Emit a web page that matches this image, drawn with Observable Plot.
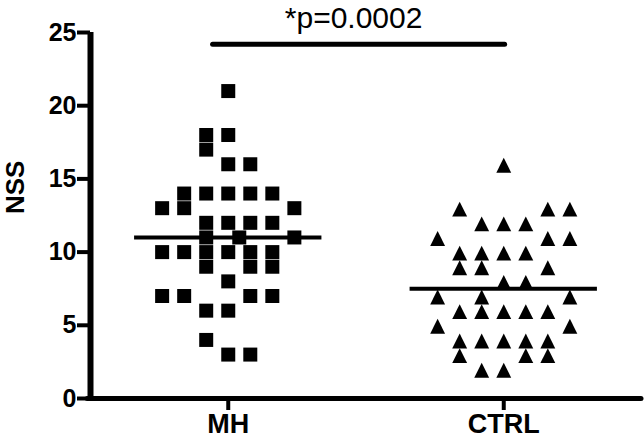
<!DOCTYPE html>
<html>
<head>
<meta charset="utf-8">
<script src="https://cdn.jsdelivr.net/npm/d3@7"></script>
<script src="https://cdn.jsdelivr.net/npm/@observablehq/plot@0.6"></script>
<style>
  html, body { margin: 0; padding: 0; background: #fff; }
  #chart svg { display: block; }
</style>
</head>
<body>
<div id="chart"></div>
<script>
// ---- data ----
const groups = ["MH", "CTRL"];
const yTicks = [0, 5, 10, 15, 20, 25];
const yLabel = "NSS";
const pLabel = "*p=0.0002";

// MH group: NSS scores and their column slot in the scatter
const mhValues = [21, 18, 18, 17, 16, 16, 14, 14, 14, 14, 14, 13, 13, 13, 12, 12, 12, 12, 11, 11, 11,
                  10, 10, 10, 10, 10, 10, 9, 9, 9, 8, 7, 7, 7, 7, 6, 6, 4, 3, 3];
const mhSlots  = [0, -1, 0, -1, 0, 1, -2, -1, 0, 1, 2, -3, -2, 3, -1, 0, 1, 2, -1, 0.5, 3,
                  -3, -2, -1, 0, 1, 2, -1, 1, 2, 0, -3, -2, 1, 2, -1, 0, -1, 0, 1];

// CTRL group
const ctrlValues = [16, 13, 13, 13, 12, 12, 12, 11, 11, 11, 10, 10, 10, 10, 9, 9, 9, 8, 8, 7, 7, 7,
                    6, 6, 6, 6, 6, 5, 5, 4, 4, 4, 4, 4, 3, 3, 3, 2, 2];
const ctrlSlots  = [0, -2, 2, 3, -1, 0, 1, -3, 2, 3, -2, -1, 0, 1, -2, -1, 2, 0, 1, -3, -1, 3,
                    -2, -1, 0, 1, 2, -3, 3, -2, -1, 0, 1, 2, -2, 1, 2, -1, 0];

const means = [11, 7.5];
const sigBarY = 24.2;

// ---- build tables ----
const slotStep = 0.08;     // horizontal spacing of scatter columns (x units)
const meanHalf = 0.34;     // half width of the mean line
const mh = mhValues.map((v, i) => ({ x: 1 + mhSlots[i] * slotStep, y: v }));
const ctrl = ctrlValues.map((v, i) => ({ x: 2 + ctrlSlots[i] * slotStep, y: v }));
const meanRows = groups.map((g, i) => ({ x1: i + 1 - meanHalf, x2: i + 1 + meanHalf, y: means[i] }));

// upright triangle centred on its bounding box
const triangleBox = {
  draw(context, size) {
    const h = Math.sqrt(size) / 2;
    context.moveTo(0, -h);
    context.lineTo(h, h);
    context.lineTo(-h, h);
    context.closePath();
  }
};

const chart = Plot.plot({
  width: 644,
  height: 438,
  marginLeft: 90,
  marginRight: 3,
  marginTop: 32,
  marginBottom: 40,
  style: { fontFamily: "'Liberation Sans', Arial, sans-serif", background: "#fff", color: "#000" },
  x: { domain: [0.5, 2.5], axis: null },
  y: { domain: [0, 25], axis: null },
  marks: [
    // axis lines
    Plot.ruleX([0.5], { y1: 0, y2: 25, stroke: "#000", strokeWidth: 6 }),
    Plot.ruleY([0], { x1: 0.49, x2: 2.5, stroke: "#000", strokeWidth: 5, strokeLinecap: "round" }),
    Plot.axisY({
      ticks: yTicks, tickSize: 13, tickPadding: 1, strokeWidth: 4,
      fontSize: 25, fontWeight: "bold", label: null, tickFormat: d => String(d)
    }),
    Plot.axisX({
      ticks: [1, 2], tickFormat: d => groups[d - 1], tickSize: 12, tickPadding: 3,
      strokeWidth: 4, fontSize: 27, fontWeight: "bold", label: null
    }),
    Plot.text([yLabel], {
      frameAnchor: "left", y: 12.6, dx: -75, rotate: -90,
      fontSize: 26, fontWeight: "bold", fill: "#000"
    }),
    // points
    Plot.dot(mh, { x: "x", y: "y", symbol: "square", r: 7.9, fill: "#000", stroke: null }),
    Plot.dot(ctrl, { x: "x", y: "y", symbol: triangleBox, r: 8.4, fill: "#000", stroke: null, dy: 1 }),
    // mean lines
    Plot.ruleY(meanRows, { x1: "x1", x2: "x2", y: "y", stroke: "#000", strokeWidth: 4 }),
    // significance bar + label
    Plot.ruleY([sigBarY], { x1: 0.945, x2: 2.005, stroke: "#000", strokeWidth: 5, strokeLinecap: "round" }),
    Plot.text([pLabel], { x: 1.455, y: 25.95, fontSize: 30, fill: "#000" })
  ]
});

document.getElementById("chart").appendChild(chart);
</script>
</body>
</html>
